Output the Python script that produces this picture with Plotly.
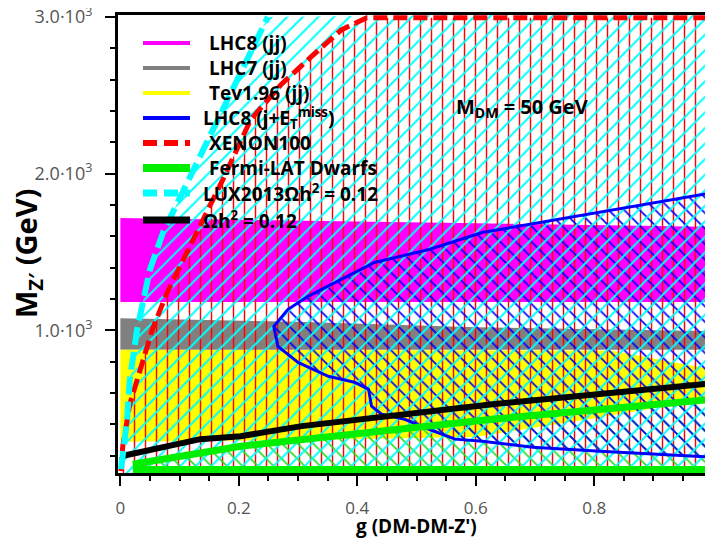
import plotly.graph_objects as go

# ---------------- data ----------------
# excluded dijet bands (g, M_Z')
lhc8jj_g = [0.0, 0.5, 1.0, 1.0, 0.0]
lhc8jj_m = [1717, 1690, 1660, 1181, 1181]

lhc7jj_g = [0.0, 0.3, 0.6, 1.0, 1.0, 0.0]
lhc7jj_m = [1077, 1055, 1020, 995, 877, 877]

tev_g = [0.0, 0.83, 1.0, 1.0, 0.8, 0.6, 0.3, 0.0]
tev_m = [877, 870, 750, 565, 440, 320, 300, 290]

# LHC8 mono-jet contour
lhc8mono_g = [1.0, 0.815, 0.611, 0.521, 0.429, 0.373, 0.317, 0.283, 0.259, 0.266,
              0.300, 0.351, 0.395, 0.419, 0.424, 0.441, 0.480, 0.521, 0.565, 0.611,
              0.696, 0.810, 0.895, 1.0]
lhc8mono_m = [1879, 1758, 1624, 1516, 1433, 1325, 1217, 1134, 1025, 898,
              796, 707, 669, 624, 516, 465, 433, 369, 306, 293,
              255, 229, 210, 191]

# XENON100 limit
xenon_g = [0.001, 0.004, 0.016, 0.033, 0.054, 0.079, 0.130, 0.173, 0.220, 0.271,
           0.322, 0.373, 0.416, 1.0]
xenon_m = [102, 261, 529, 752, 1006, 1242, 1624, 1962, 2344, 2567,
           2745, 2917, 2995, 2995]

# Fermi-LAT dwarfs
fermi_up_g = [0.021, 0.203, 0.628, 1.0]
fermi_up_m = [146, 261, 433, 560]
fermi_low_g = [0.021, 1.0]
fermi_low_m = [112, 112]

# LUX2013 with relic density
lux_g = [0.001, 0.011, 0.016, 0.028, 0.050, 0.072, 0.113, 0.161, 0.204, 0.249]
lux_m = [115, 414, 688, 1000, 1389, 1624, 1943, 2312, 2643, 3000]

# relic density Omega h^2 = 0.12
relic_g = [0.001, 0.135, 0.203, 0.306, 0.628, 0.815, 1.0]
relic_m = [197, 306, 325, 389, 529, 592, 662]

x_ticks = [0, 0.2, 0.4, 0.6, 0.8, 1.0]
x_ticktext = ["0", "0.2", "0.4", "0.6", "0.8", "1"]
y_ticks = [1000, 2000, 3000]
y_ticktext = ["1.0·10<sup>3</sup>", "2.0·10<sup>3</sup>", "3.0·10<sup>3</sup>"]

legend_names = ["LHC8 (jj)", "LHC7 (jj)", "Tev1.96 (jj)",
                "LHC8 (j+E<sub>T</sub><sup>miss</sup>)", "XENON100",
                "Fermi-LAT Dwarfs", "LUX2013Ωh<sup>2</sup> = 0.12", "Ωh<sup>2</sup> = 0.12"]

G_MAX = 1.0
M_MIN, M_MAX = 90, 3012

MAGENTA = "#ff00ff"
GRAY = "#808080"
YELLOW = "#ffff00"
BLUE = "#0000ff"
RED = "#ff0000"
GREEN = "#00ee00"
CYAN = "#00ffff"
BLACK = "#000000"

# the page body adds an 8px offset; figure sized so the plot lands where the reference has it
OFF = 8
W, H = 705, 534
ML, MR, MT, MB = 110, 0, 7, 69
PW, PH = W - ML - MR, H - MT - MB


def px_x(p):
    return (p - OFF - ML) / PW


def px_y(p):
    return (H - MB - (p - OFF)) / PH


FONT = "Open Sans"

fig = go.Figure()

# ---------------- solid bands ----------------
for g, m, c in [(lhc8jj_g, lhc8jj_m, MAGENTA), (lhc7jj_g, lhc7jj_m, GRAY), (tev_g, tev_m, YELLOW)]:
    fig.add_trace(go.Scatter(x=g, y=m, fill="toself", fillcolor=c, mode="lines",
                             line=dict(width=0, color=c), showlegend=False, hoverinfo="skip"))


def hatch(g, m, shape, color, size=11, solidity=0.14):
    fig.add_trace(go.Scatter(
        x=g, y=m, fill="toself", mode="lines", line=dict(width=0, color="rgba(0,0,0,0)"),
        fillcolor="rgba(0,0,0,0)",
        fillpattern=dict(shape=shape, fgcolor=color, bgcolor="rgba(0,0,0,0)",
                         size=size, solidity=solidity, fillmode="replace"),
        showlegend=False, hoverinfo="skip"))


# ---------------- hatched regions ----------------
hatch(xenon_g[:-1] + [G_MAX, G_MAX, xenon_g[0]], xenon_m[:-1] + [2995, M_MIN, M_MIN], "|", RED, solidity=0.13)
hatch(fermi_up_g + fermi_low_g[::-1], fermi_up_m + fermi_low_m[::-1], "\\", "#22dd22", solidity=0.15)
hatch(lhc8mono_g, lhc8mono_m, "\\", BLUE, solidity=0.15)
hatch(lux_g + [G_MAX, G_MAX, lux_g[0]], lux_m + [3030, M_MIN, M_MIN], "/", CYAN, solidity=0.18)

# ---------------- contour lines ----------------
fig.add_trace(go.Scatter(x=lhc8mono_g, y=lhc8mono_m, mode="lines",
                         line=dict(color=BLUE, width=3), showlegend=False))
fig.add_trace(go.Scatter(x=fermi_up_g, y=fermi_up_m, mode="lines",
                         line=dict(color=GREEN, width=7), showlegend=False))
fig.add_trace(go.Scatter(x=fermi_low_g, y=fermi_low_m, mode="lines",
                         line=dict(color=GREEN, width=7), showlegend=False))
fig.add_trace(go.Scatter(x=relic_g, y=relic_m, mode="lines",
                         line=dict(color=BLACK, width=6), showlegend=False))
fig.add_trace(go.Scatter(x=xenon_g, y=xenon_m, mode="lines",
                         line=dict(color=RED, width=5, dash="14px,6px"), showlegend=False))
fig.add_trace(go.Scatter(x=lux_g, y=lux_m, mode="lines",
                         line=dict(color=CYAN, width=6, dash="18px,7px"), showlegend=False))

# ---------------- legend (drawn as samples + text) ----------------
legend_styles = [(MAGENTA, 4, "solid"), (GRAY, 4, "solid"), (YELLOW, 4, "solid"),
                 (BLUE, 4, "solid"), (RED, 6, "14px,7px"), (GREEN, 8, "solid"),
                 (CYAN, 7, "14px,7px"), (BLACK, 7, "solid")]
legend_rows = [43, 68, 93, 118, 143, 168, 193, 220]
legend_text_x = [207, 207, 207, 201, 207, 207, 201, 201]
for name, (c, w, d), row, tx in zip(legend_names, legend_styles, legend_rows, legend_text_x):
    fig.add_shape(type="line", xref="paper", yref="paper",
                  x0=px_x(143), x1=px_x(190), y0=px_y(row), y1=px_y(row),
                  line=dict(color=c, width=w, dash=d))
    fig.add_annotation(x=px_x(tx), y=px_y(row), xref="paper", yref="paper",
                       xanchor="left", yanchor="middle", showarrow=False, text=name,
                       font=dict(family=FONT, size=19, color="black", weight="bold"))

fig.add_annotation(x=px_x(522), y=px_y(107), xref="paper", yref="paper", showarrow=False,
                   xanchor="center", yanchor="middle",
                   text="M<sub>DM</sub> = 50 GeV",
                   font=dict(family=FONT, size=20, color="black", weight="bold"))

# axis titles
fig.add_annotation(x=px_x(416), y=px_y(526), xref="paper", yref="paper", showarrow=False,
                   xanchor="center", yanchor="middle", text="g (DM-DM-Z')",
                   font=dict(family=FONT, size=19, color="black", weight="bold"))
fig.add_annotation(x=px_x(28), y=px_y(254), xref="paper", yref="paper", showarrow=False,
                   xanchor="center", yanchor="middle", textangle=-90,
                   text="M<sub>Z′</sub> (GeV)",
                   font=dict(family=FONT, size=29, color="black", weight="bold"))

axis_common = dict(showline=True, linecolor="black", linewidth=3, mirror=True,
                   ticks="outside", tickcolor="black", tickwidth=2, ticklen=10,
                   showgrid=False, zeroline=False, automargin=False,
                   ticklabeloverflow="allow")

fig.update_layout(
    width=W, height=H,
    margin=dict(l=ML, r=MR, t=MT, b=MB, autoexpand=False),
    paper_bgcolor="white", plot_bgcolor="white",
    xaxis=dict(range=[-0.004, 1.0005], tickvals=x_ticks, ticktext=x_ticktext,
               ticklabelstandoff=8,
               tickfont=dict(family=FONT, size=17, color="#555555"),
               minor=dict(dtick=0.05, tick0=0, ticks="outside", ticklen=5, tickcolor="black", tickwidth=2),
               **axis_common),
    yaxis=dict(range=[M_MIN, M_MAX], tickvals=y_ticks, ticktext=y_ticktext,
               ticklabelstandoff=9,
               tickfont=dict(family=FONT, size=18, color="#555555"),
               minor=dict(dtick=200, tick0=0, ticks="outside", ticklen=5, tickcolor="black", tickwidth=2),
               **axis_common),
    showlegend=False,
)

fig.write_html("out.html")
